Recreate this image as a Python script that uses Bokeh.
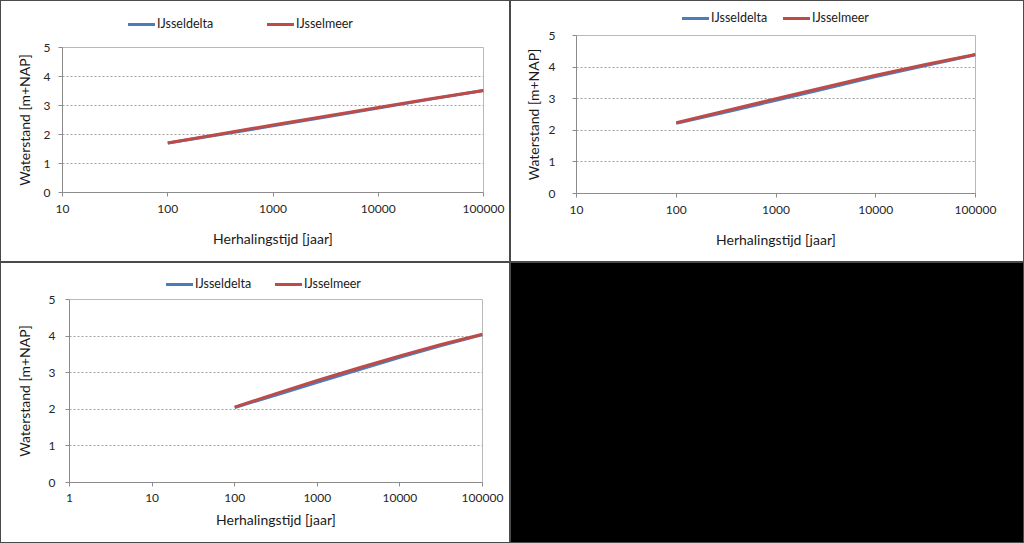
from bokeh.plotting import figure
from bokeh.layouts import row, column
from bokeh.models import FixedTicker, NumeralTickFormatter, Spacer, Range1d, Div
from bokeh.embed import file_html
from bokeh.resources import INLINE

# ---------------- data ----------------
x_years = [100, 316, 1000, 3162, 10000, 31623, 100000]

# panel 1 (top-left)
p1_delta = [1.71, 2.00, 2.30, 2.60, 2.91, 3.22, 3.52]
p1_meer = [1.71, 2.02, 2.33, 2.63, 2.93, 3.23, 3.52]
p1_xticks = [10, 100, 1000, 10000, 100000]

# panel 2 (top-right)
p2_delta = [2.22, 2.58, 2.95, 3.32, 3.70, 4.05, 4.39]
p2_meer = [2.24, 2.62, 3.00, 3.37, 3.74, 4.08, 4.40]
p2_xticks = [10, 100, 1000, 10000, 100000]

# panel 3 (bottom-left)
p3_delta = [2.05, 2.39, 2.74, 3.08, 3.42, 3.74, 4.04]
p3_meer = [2.06, 2.43, 2.79, 3.13, 3.46, 3.77, 4.05]
p3_xticks = [1, 10, 100, 1000, 10000, 100000]

y_ticks = [0, 1, 2, 3, 4, 5]
series_names = ["IJsseldelta", "IJsselmeer"]
series_colors = ["#4A7EBB", "#BE4B48"]
x_title = "Herhalingstijd [jaar]"
y_title = "Waterstand [m+NAP]"

FONT = "Lato"


def legend_div(w, h, cy, xs):
    parts = []
    for name, color, x0 in zip(series_names, series_colors, xs):
        parts.append(
            f'<span style="position:absolute;left:{x0}px;top:{cy - 1.5}px;'
            f'width:27px;height:3px;background:{color};"></span>')
        parts.append(
            f'<span style="position:absolute;left:{x0 + 29}px;top:{cy - 8}px;'
            f'line-height:16px;font-family:{FONT};font-size:12.5px;'
            f'color:#1a1a1a;white-space:nowrap;">{name}</span>')
    html = (f'<div style="position:relative;width:{w}px;height:{h}px;'
            f'background:white;overflow:visible;">' + "".join(parts) + "</div>")
    return Div(text=html, width=w, height=h, margin=0,
               styles={"background-color": "white"})


def make_panel(delta, meer, xticks, w, h, borders, y_std, y_title_std,
               x_std, x_title_std):
    l, r, t, b = borders
    p = figure(width=w, height=h, x_axis_type="log",
               x_range=Range1d(xticks[0], xticks[-1]), y_range=Range1d(0, 5),
               output_backend="svg", toolbar_location=None,
               min_border_left=l, min_border_right=r,
               min_border_top=t, min_border_bottom=b)
    p.background_fill_color = "white"
    p.border_fill_color = "white"
    p.outline_line_color = "#b8b8b8"
    p.outline_line_width = 1

    p.line(x_years, delta, line_color=series_colors[0], line_width=3)
    p.line(x_years, meer, line_color=series_colors[1], line_width=3)

    p.xaxis.ticker = FixedTicker(ticks=xticks, minor_ticks=[])
    p.xaxis.formatter = NumeralTickFormatter(format="0")
    p.yaxis.ticker = FixedTicker(ticks=y_ticks, minor_ticks=[])

    for ax in (p.xaxis[0], p.yaxis[0]):
        ax.axis_line_color = "#8c8c8c"
        ax.major_tick_line_color = "#8c8c8c"
        ax.major_tick_out = 4
        ax.major_tick_in = 0
        ax.minor_tick_out = 0
        ax.minor_tick_in = 0
        ax.major_label_text_font = FONT
        ax.major_label_text_font_size = "12px"
        ax.major_label_text_color = "#262626"
        ax.axis_label_text_font = FONT
        ax.axis_label_text_font_size = "14px"
        ax.axis_label_text_font_style = "normal"
        ax.axis_label_text_color = "#1a1a1a"

    p.yaxis.axis_label = y_title
    p.yaxis.major_label_standoff = y_std
    p.yaxis.axis_label_standoff = y_title_std
    p.xaxis.axis_label = x_title
    p.xaxis.major_label_standoff = x_std
    p.xaxis.axis_label_standoff = x_title_std

    p.xgrid.grid_line_color = None
    p.ygrid.ticker = FixedTicker(ticks=y_ticks[1:-1])
    p.ygrid.grid_line_color = "#a0a0a0"
    p.ygrid.grid_line_dash = "2 2"
    p.ygrid.grid_line_width = 1
    return p


# panel 1: legend strip 30 px, plot 230 px
d1 = legend_div(508, 30, 23, [127, 266])
f1 = make_panel(p1_delta, p1_meer, p1_xticks, 508, 230, (61, 26, 16, 69),
                8, 8, 8, 14)
# panel 2: legend strip 24 px, plot 236 px
d2 = legend_div(512, 24, 17, [171, 272])
f2 = make_panel(p2_delta, p2_meer, p2_xticks, 512, 236, (65, 48, 10, 68),
                17, 4, 8, 14)
# panel 3: legend strip 29 px, plot 250 px
d3 = legend_div(508, 29, 21, [165, 274])
f3 = make_panel(p3_delta, p3_meer, p3_xticks, 508, 250, (68, 27, 7, 60),
                10, 13, 7, 6)
black = Spacer(width=512, height=279, styles={"background-color": "black"})

white = {"background-color": "white"}
c1 = column(d1, f1, spacing=0, styles=white)
c2 = column(d2, f2, spacing=0, styles=white)
c3 = column(d3, f3, spacing=0, styles=white)

root = column(row(c1, c2, spacing=2), row(c3, black, spacing=2), spacing=2,
              styles={"background-color": "#4a4a4a", "padding": "1px"})

open("out.html", "w").write(file_html(root, INLINE))
